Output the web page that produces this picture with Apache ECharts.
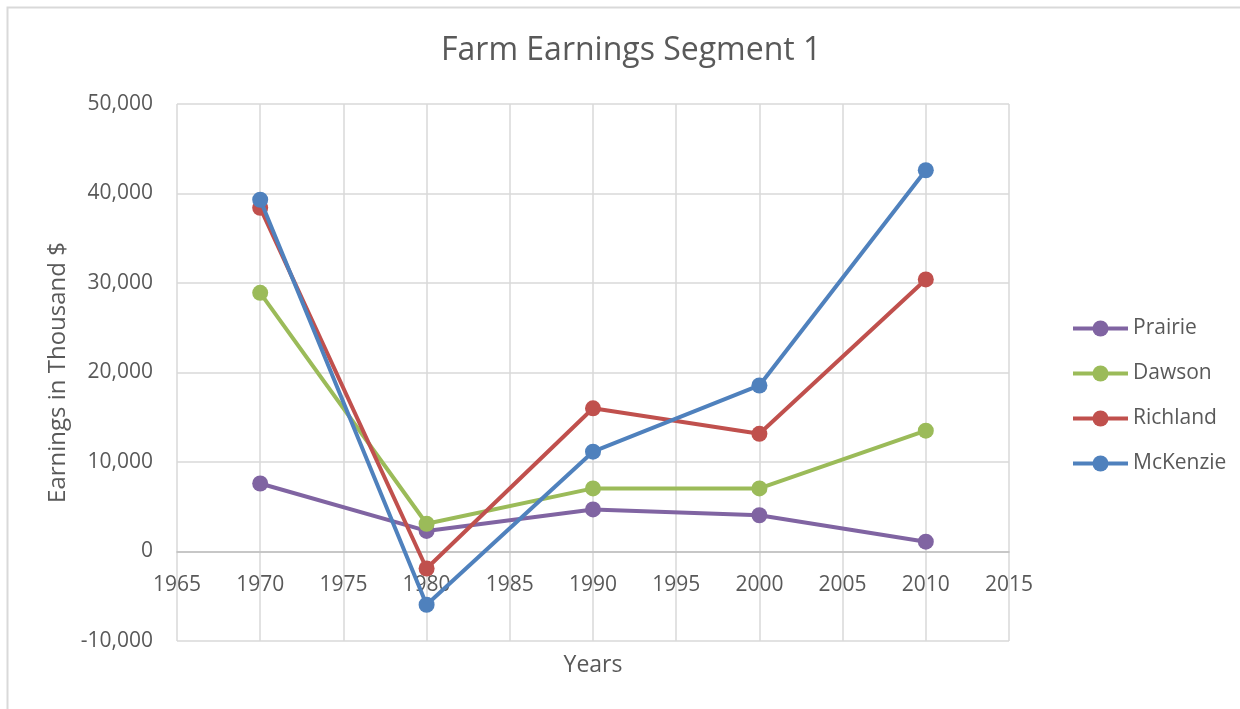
<!DOCTYPE html>
<html><head><meta charset="utf-8">
<script src="https://cdn.jsdelivr.net/npm/echarts@6/dist/echarts.min.js"></script>
<style>html,body{margin:0;padding:0;background:#fff}#c{width:1240px;height:709px}</style>
</head><body><div id="c"></div>
<script>
const years = [1970, 1980, 1990, 2000, 2010];
const prairie = [7600, 2300, 4700, 4050, 1100];
const dawson = [28900, 3100, 7050, 7050, 13500];
const richland = [38400, -1900, 16000, 13150, 30400];
const mckenzie = [39300, -5950, 11150, 18550, 42600];
const seriesNames = ['Prairie', 'Dawson', 'Richland', 'McKenzie'];
const seriesColors = ['#8064A2', '#9BBB59', '#C0504D', '#4F81BD'];
const seriesData = [prairie, dawson, richland, mckenzie];

const FONT = 'Open Sans';
const TXT = '#595959';
const chart = echarts.init(document.getElementById('c'), null, {renderer: 'canvas'});
chart.setOption({
  backgroundColor: '#fff',
  animation: false,
  textStyle: {fontFamily: FONT},
  graphic: [{
    type: 'rect', left: 5, top: 5, z: -1,
    shape: {width: 1300, height: 800},
    style: {fill: 'none', stroke: '#d9d9d9', lineWidth: 2}
  }],
  title: {
    text: 'Farm Earnings Segment 1', left: 436, top: 30,
    textStyle: {fontFamily: FONT, fontSize: 32, fontWeight: 'normal', color: TXT}
  },
  legend: {
    orient: 'vertical', left: 1066, top: 313,
    itemWidth: 55, itemHeight: 20, itemGap: 24,
    lineStyle: {width: 4},
    textStyle: {fontFamily: FONT, fontSize: 21, color: TXT},
    data: seriesNames
  },
  grid: {left: 177, right: 231, top: 104, bottom: 68, containLabel: false, outerBoundsMode: 'none'},
  xAxis: {
    type: 'value', min: 1965, max: 2015, interval: 5,
    offset: -89,
    name: 'Years', nameLocation: 'middle', nameGap: 102,
    nameTextStyle: {fontFamily: FONT, fontSize: 23, color: TXT},
    axisLine: {onZero: false, lineStyle: {color: '#bfbfbf', width: 1.5}},
    axisTick: {show: false},
    axisLabel: {fontFamily: FONT, fontSize: 21, color: TXT, margin: 23, formatter: v => String(v)},
    splitLine: {show: true, lineStyle: {color: '#d9d9d9', width: 1.5}}
  },
  yAxis: {
    type: 'value', min: -10000, max: 50000, interval: 10000,
    name: 'Earnings in Thousand $', nameLocation: 'middle', nameGap: 103, nameRotate: 90,
    nameTextStyle: {fontFamily: FONT, fontSize: 24, color: TXT},
    axisLine: {show: false},
    axisTick: {show: false},
    axisLabel: {fontFamily: FONT, fontSize: 21, color: TXT, margin: 24,
      formatter: v => v.toLocaleString('en-US')},
    splitLine: {show: true, lineStyle: {color: '#d9d9d9', width: 1.5}}
  },
  series: seriesNames.map((n, i) => ({
    name: n, type: 'line',
    data: years.map((y, k) => [y, seriesData[i][k]]),
    symbol: 'circle', symbolSize: 16,
    color: seriesColors[i],
    lineStyle: {width: 4, color: seriesColors[i]},
    itemStyle: {color: seriesColors[i]},
    z: 2 + i
  }))
});
</script></body></html>
